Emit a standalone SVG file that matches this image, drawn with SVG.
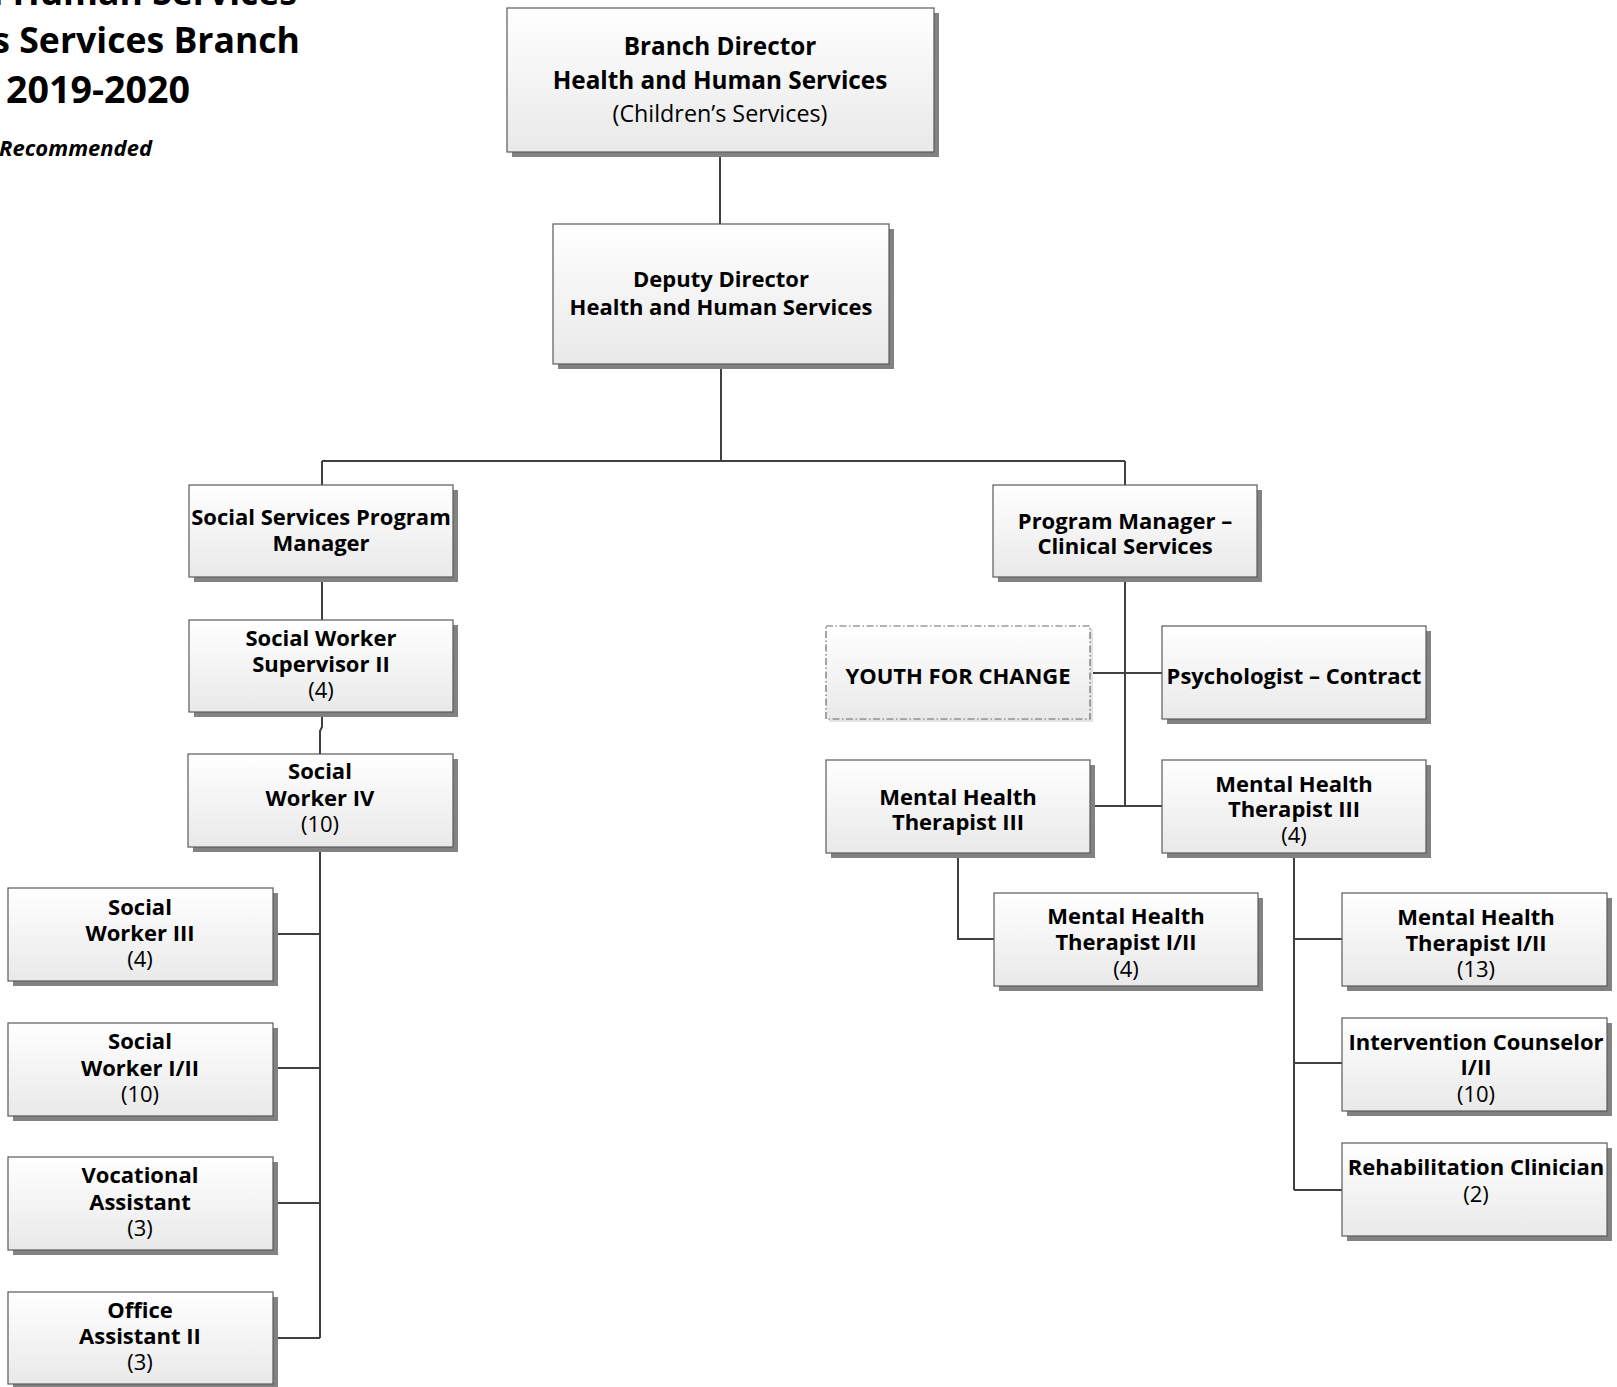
<svg xmlns="http://www.w3.org/2000/svg" width="1617" height="1387" viewBox="0 0 1617 1387">
  <defs>
    <linearGradient id="boxFill" x1="0" y1="0" x2="0" y2="1">
      <stop offset="0" stop-color="#ffffff"/>
      <stop offset="1" stop-color="#e9e9e9"/>
    </linearGradient>
    <style>
      .shadow { fill: #828282; }
      .shadow-soft { fill: #e2e2e2; }
      .box { fill: url(#boxFill); stroke: #5a5a5a; stroke-width: 1.2; }
      .box-dash { fill: url(#boxFill); stroke: #6a6a6a; stroke-width: 1.2; stroke-dasharray: 7 2.5 1.5 2.5; }
      .t { font-family: "Open Sans", "Liberation Sans", sans-serif; font-weight: bold; font-size: 22px; text-anchor: middle; fill: #000; }
      .t .n { font-weight: normal; }
      .t.big { font-size: 24.3px; }
      .t.big .n { font-size: 23.3px; }
      .title { font-family: "Open Sans", "Liberation Sans", sans-serif; font-weight: bold; fill: #000; }
      .conn { fill: none; stroke: #404040; stroke-width: 2; }
    </style>
  </defs>
  <rect width="1617" height="1387" fill="#ffffff"/>

  <!-- heading block, running off the left edge of the sheet -->
  <g id="heading">
    <text class="title" x="297" y="5" font-size="35.6" text-anchor="end">d Human Services</text>
    <text class="title" x="300" y="53" font-size="35.6" text-anchor="end">s Services Branch</text>
    <text class="title" x="6" y="103" font-size="37.6">2019-2020</text>
    <text class="title" x="152" y="156" font-size="22" font-style="italic" text-anchor="end">Recommended</text>
  </g>

  <!-- reporting lines -->
  <g id="connectors">
    <path class="conn" d="M720 152 V224"/>
    <path class="conn" d="M721 364 V461 M322 461 H1125 M322 461 V485 M1125 461 V485"/>
    <path class="conn" d="M322 577 V620"/>
    <path class="conn" d="M322 712 V727 L320 731 V754"/>
    <path class="conn" d="M320 847 V1338 M273 934 H320 M273 1068 H320 M273 1203 H320 M273 1338 H320"/>
    <path class="conn" d="M1125 577 V806 M1090 673 H1162 M1090 806 H1162"/>
    <path class="conn" d="M958 853 V939 H994"/>
    <path class="conn" d="M1294 853 V1190 M1294 939 H1342 M1294 1063 H1342 M1294 1190 H1342"/>
  </g>

  <g id="branch-director">
    <rect class="shadow" x="512" y="13" width="427" height="144"/>
    <rect class="box" x="507" y="8" width="427" height="144"/>
    <text class="t big"><tspan x="720" y="55">Branch Director</tspan><tspan x="720" y="89">Health and Human Services</tspan><tspan class="n" x="720" y="122">(Children’s Services)</tspan></text>
  </g>

  <g id="deputy-director">
    <rect class="shadow" x="558" y="229" width="336" height="140"/>
    <rect class="box" x="553" y="224" width="336" height="140"/>
    <text class="t"><tspan x="721" y="287">Deputy Director</tspan><tspan x="721" y="315">Health and Human Services</tspan></text>
  </g>

  <g id="social-services-program-manager">
    <rect class="shadow" x="194" y="490" width="264" height="92"/>
    <rect class="box" x="189" y="485" width="264" height="92"/>
    <text class="t"><tspan x="321" y="525">Social Services Program</tspan><tspan x="321" y="551">Manager</tspan></text>
  </g>

  <g id="social-worker-supervisor-ii">
    <rect class="shadow" x="194" y="625" width="264" height="92"/>
    <rect class="box" x="189" y="620" width="264" height="92"/>
    <text class="t"><tspan x="321" y="646">Social Worker</tspan><tspan x="321" y="672">Supervisor II</tspan><tspan class="n" x="321" y="698">(4)</tspan></text>
  </g>

  <g id="social-worker-iv">
    <rect class="shadow" x="193" y="759" width="265" height="93"/>
    <rect class="box" x="188" y="754" width="265" height="93"/>
    <text class="t"><tspan x="320" y="779">Social</tspan><tspan x="320" y="806">Worker IV</tspan><tspan class="n" x="320" y="832">(10)</tspan></text>
  </g>

  <g id="social-worker-iii">
    <rect class="shadow" x="13" y="893" width="265" height="93"/>
    <rect class="box" x="8" y="888" width="265" height="93"/>
    <text class="t"><tspan x="140" y="915">Social</tspan><tspan x="140" y="941">Worker III</tspan><tspan class="n" x="140" y="967">(4)</tspan></text>
  </g>

  <g id="social-worker-i-ii">
    <rect class="shadow" x="13" y="1028" width="265" height="93"/>
    <rect class="box" x="8" y="1023" width="265" height="93"/>
    <text class="t"><tspan x="140" y="1049">Social</tspan><tspan x="140" y="1076">Worker I/II</tspan><tspan class="n" x="140" y="1102">(10)</tspan></text>
  </g>

  <g id="vocational-assistant">
    <rect class="shadow" x="13" y="1162" width="265" height="93"/>
    <rect class="box" x="8" y="1157" width="265" height="93"/>
    <text class="t"><tspan x="140" y="1183">Vocational</tspan><tspan x="140" y="1210">Assistant</tspan><tspan class="n" x="140" y="1236">(3)</tspan></text>
  </g>

  <g id="office-assistant-ii">
    <rect class="shadow" x="13" y="1297" width="265" height="92"/>
    <rect class="box" x="8" y="1292" width="265" height="92"/>
    <text class="t"><tspan x="140" y="1318">Office</tspan><tspan x="140" y="1344">Assistant II</tspan><tspan class="n" x="140" y="1370">(3)</tspan></text>
  </g>

  <g id="program-manager-clinical">
    <rect class="shadow" x="998" y="490" width="264" height="92"/>
    <rect class="box" x="993" y="485" width="264" height="92"/>
    <text class="t"><tspan x="1125" y="529">Program Manager –</tspan><tspan x="1125" y="554">Clinical Services</tspan></text>
  </g>

  <g id="youth-for-change">
    <rect class="shadow-soft" x="829" y="629" width="264" height="93"/>
    <rect class="box-dash" x="826" y="626" width="264" height="93"/>
    <text class="t" x="958" y="684">YOUTH FOR CHANGE</text>
  </g>

  <g id="psychologist-contract">
    <rect class="shadow" x="1167" y="631" width="264" height="93"/>
    <rect class="box" x="1162" y="626" width="264" height="93"/>
    <text class="t" x="1294" y="684">Psychologist – Contract</text>
  </g>

  <g id="mh-therapist-iii-a">
    <rect class="shadow" x="831" y="765" width="264" height="93"/>
    <rect class="box" x="826" y="760" width="264" height="93"/>
    <text class="t"><tspan x="958" y="805">Mental Health</tspan><tspan x="958" y="830">Therapist III</tspan></text>
  </g>

  <g id="mh-therapist-iii-b">
    <rect class="shadow" x="1167" y="765" width="264" height="93"/>
    <rect class="box" x="1162" y="760" width="264" height="93"/>
    <text class="t"><tspan x="1294" y="792">Mental Health</tspan><tspan x="1294" y="817">Therapist III</tspan><tspan class="n" x="1294" y="843">(4)</tspan></text>
  </g>

  <g id="mh-therapist-i-ii-a">
    <rect class="shadow" x="999" y="898" width="264" height="93"/>
    <rect class="box" x="994" y="893" width="264" height="93"/>
    <text class="t"><tspan x="1126" y="924">Mental Health</tspan><tspan x="1126" y="950">Therapist I/II</tspan><tspan class="n" x="1126" y="977">(4)</tspan></text>
  </g>

  <g id="mh-therapist-i-ii-b">
    <rect class="shadow" x="1347" y="898" width="265" height="93"/>
    <rect class="box" x="1342" y="893" width="265" height="93"/>
    <text class="t"><tspan x="1476" y="925">Mental Health</tspan><tspan x="1476" y="951">Therapist I/II</tspan><tspan class="n" x="1476" y="977">(13)</tspan></text>
  </g>

  <g id="intervention-counselor">
    <rect class="shadow" x="1347" y="1023" width="265" height="93"/>
    <rect class="box" x="1342" y="1018" width="265" height="93"/>
    <text class="t"><tspan x="1476" y="1050">Intervention Counselor</tspan><tspan x="1476" y="1075">I/II</tspan><tspan class="n" x="1476" y="1102">(10)</tspan></text>
  </g>

  <g id="rehabilitation-clinician">
    <rect class="shadow" x="1347" y="1148" width="265" height="93"/>
    <rect class="box" x="1342" y="1143" width="265" height="93"/>
    <text class="t"><tspan x="1476" y="1175">Rehabilitation Clinician</tspan><tspan class="n" x="1476" y="1202">(2)</tspan></text>
  </g>
</svg>
